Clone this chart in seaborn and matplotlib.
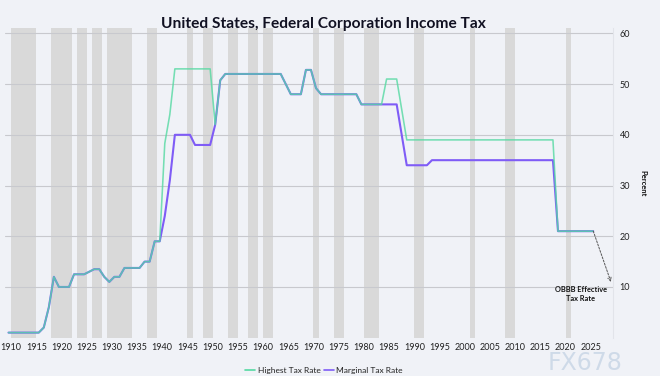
import matplotlib
matplotlib.use("Agg")
import matplotlib.pyplot as plt
from matplotlib.lines import Line2D
import pandas as pd
import seaborn as sns

# ---------------- data ----------------
years = list(range(1909, 2026))

highest_rate = [
    1,                                                      # 1909
    1, 1, 1, 1, 1, 1, 2, 6, 12, 10,                         # 1910-1919
    10, 10, 12.5, 12.5, 12.5, 13, 13.5, 13.5, 12, 11,       # 1920-1929
    12, 12, 13.75, 13.75, 13.75, 13.75, 15, 15, 19, 19,     # 1930-1939
    38.3, 44, 53, 53, 53, 53, 53, 53, 53, 53,               # 1940-1949
    42, 50.75, 52, 52, 52, 52, 52, 52, 52, 52,              # 1950-1959
    52, 52, 52, 52, 50, 48, 48, 48, 52.8, 52.8,             # 1960-1969
    49.2, 48, 48, 48, 48, 48, 48, 48, 48, 46,               # 1970-1979
    46, 46, 46, 46, 51, 51, 51, 45, 39, 39,                 # 1980-1989
    39, 39, 39, 39, 39, 39, 39, 39, 39, 39,                 # 1990-1999
    39, 39, 39, 39, 39, 39, 39, 39, 39, 39,                 # 2000-2009
    39, 39, 39, 39, 39, 39, 39, 39, 21, 21,                 # 2010-2019
    21, 21, 21, 21, 21, 21,                                 # 2020-2025
]

marginal_rate = [
    1,                                                      # 1909
    1, 1, 1, 1, 1, 1, 2, 6, 12, 10,                         # 1910-1919
    10, 10, 12.5, 12.5, 12.5, 13, 13.5, 13.5, 12, 11,       # 1920-1929
    12, 12, 13.75, 13.75, 13.75, 13.75, 15, 15, 19, 19,     # 1930-1939
    24, 31, 40, 40, 40, 40, 38, 38, 38, 38,                 # 1940-1949
    42, 50.75, 52, 52, 52, 52, 52, 52, 52, 52,              # 1950-1959
    52, 52, 52, 52, 50, 48, 48, 48, 52.8, 52.8,             # 1960-1969
    49.2, 48, 48, 48, 48, 48, 48, 48, 48, 46,               # 1970-1979
    46, 46, 46, 46, 46, 46, 46, 40, 34, 34,                 # 1980-1989
    34, 34, 34, 35, 35, 35, 35, 35, 35, 35,                 # 1990-1999
    35, 35, 35, 35, 35, 35, 35, 35, 35, 35,                 # 2000-2009
    35, 35, 35, 35, 35, 35, 35, 35, 21, 21,                 # 2010-2019
    21, 21, 21, 21, 21, 21,                                 # 2020-2025
]

recessions = [(1910, 1912), (1913, 1914), (1918, 1921), (1923, 1924), (1926, 1927),
              (1929, 1933), (1937, 1938), (1945, 1945), (1948, 1949), (1953, 1954),
              (1957, 1958), (1960, 1961), (1970, 1970), (1974, 1975), (1980, 1982),
              (1990, 1991), (2001, 2001), (2008, 2009), (2020, 2020)]

x_ticks = list(range(1910, 2030, 5))
y_ticks = [10, 20, 30, 40, 50, 60]

title = "United States, Federal Corporation Income Tax"
series_names = ["Highest Tax Rate", "Marginal Tax Rate"]
annotation = "OBBB Effective\nTax Rate"

# ---------------- style ----------------
BG = "#F0F2F7"
GREEN = "#55D9A2"
PURPLE = "#7F5CF6"
BAR = "#D9D9D9"

sns.set_style("white", rc={"axes.facecolor": BG, "figure.facecolor": BG})
plt.rcParams["font.family"] = ["Lato", "DejaVu Sans"]

df = pd.DataFrame({"year": years, "highest": highest_rate, "marginal": marginal_rate})
df["xpos"] = df["year"] + 0.5

fig = plt.figure(figsize=(6.6, 3.76), dpi=100)
ax = fig.add_axes([0.0083, 0.1019, 0.9200, 0.8228])
ax.set_xlim(1908.9, 2029.35)
ax.set_ylim(0, 61)

for s, e in recessions:
    ax.axvspan(s, e + 1, color=BAR, lw=0, zorder=1)

sns.lineplot(data=df, x="xpos", y="marginal", ax=ax, color=PURPLE, lw=1.5, zorder=3)
sns.lineplot(data=df, x="xpos", y="highest", ax=ax, color=GREEN, lw=1.15, alpha=0.8, zorder=4)

ax.set_xlabel("")
ax.set_ylabel("")
ax.set_xticks(x_ticks)
ax.set_xticklabels([str(t) for t in x_ticks])
ax.set_yticks(y_ticks)
ax.yaxis.tick_right()
ax.tick_params(axis="x", length=0, pad=4, labelsize=6.5, colors="#222222")
ax.tick_params(axis="y", length=0, pad=5, labelsize=6.5, colors="#222222")
ax.yaxis.grid(True, color="#C8C9CE", lw=0.8)
ax.xaxis.grid(False)
ax.set_axisbelow("line")
for side in ["left", "top", "bottom"]:
    ax.spines[side].set_visible(False)
ax.spines["right"].set_color("#E2E4EA")
ax.spines["right"].set_linewidth(0.8)

# arrow + annotation
ax.annotate("", xy=(2029.0, 11), xytext=(2025.5, 21),
            arrowprops=dict(arrowstyle="->", linestyle=(0, (2, 1.5)), color="#555555",
                            lw=0.7, shrinkA=0, shrinkB=0, mutation_scale=6),
            annotation_clip=False, zorder=5)
ax.text(2023.05, 8.6, annotation, ha="center", va="center", fontsize=5.3,
        fontweight="bold", linespacing=1.3, color="#111111", zorder=5)

fig.text(0.490, 1 - 24 / 376, title, ha="center", va="center", fontsize=11.2,
         fontweight="bold", color="#111122")
fig.text(643 / 660, 1 - 183.5 / 376, "Percent", rotation=270, ha="center", va="center",
         fontsize=5.5, fontweight="bold", color="#111111")

handles = [Line2D([], [], color=GREEN, lw=1.2), Line2D([], [], color=PURPLE, lw=1.2)]
fig.legend(handles, series_names, loc="center", bbox_to_anchor=(324 / 660, 1 - 370.7 / 376),
           ncol=2, frameon=False, fontsize=6, handlelength=1.2, columnspacing=0.4,
           handletextpad=0.3, labelcolor="#222222")

# watermark (kept clear of the tick labels)
fig.text(585 / 660, 1 - 363 / 376, "FX678", ha="center", va="center", fontsize=17,
         color="#C9D6E6", alpha=0.85, family="DejaVu Sans")

fig.savefig("out.png", dpi=100, facecolor=BG)
